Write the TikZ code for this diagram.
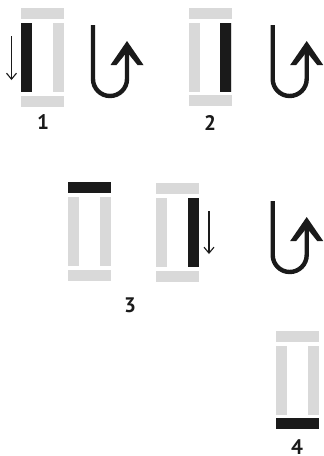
\documentclass[tikz,border=0pt]{standalone}
\usepackage{fontspec}
\setmainfont{PT Sans}
\usepackage{xcolor}
\usetikzlibrary{arrows.meta,positioning}
\definecolor{barlight}{HTML}{D9D9D9}
\definecolor{bardark}{HTML}{1A1A1A}
\tikzset{
  barpale/.style={fill=barlight},
  barblack/.style={fill=bardark},
  steplabel/.style={font=\bfseries\fontsize{21}{21}\selectfont,text=bardark,inner sep=0pt},
  thinarrow/.style={-{Straight Barb[length=6pt,width=10pt]},bardark,line width=1.1pt},
  uturn/.style={bardark,line width=4.4pt},
  uhead/.style={fill=bardark}
}
\begin{document}
\begin{tikzpicture}[x=1pt,y=-1pt]
  \useasboundingbox (0,0) rectangle (324,456);
  % pale frames: left edge, top edge
  \foreach \x/\y/\g in {21/8/96,189/8/95,68/182/270,156/183/271,276/331/418} {
    \fill[barpale] (\x,\y) rectangle ++(43,11);
    \fill[barpale] (\x,\y+15) rectangle ++(11,69);
    \fill[barpale] (\x+32,\y+15) rectangle ++(11,69);
    \fill[barpale] (\x,\g) rectangle ++(43,11);
  }
  % black parts
  \fill[barblack] (21,23) rectangle (32,92);
  \fill[barblack] (220,23) rectangle (231,92);
  \fill[barblack] (68,182) rectangle (111,193);
  \fill[barblack] (188,198) rectangle (199,267);
  \fill[barblack] (276,418) rectangle (319,429);
  % small arrows
  \coordinate (down1a) at (11.5,36);
  \coordinate (down1b) at (11.5,80);
  \coordinate (down3a) at (209,211);
  \coordinate (down3b) at (209,254);
  \draw[thinarrow] (down1a) -- (down1b);
  \draw[thinarrow] (down3a) -- (down3b);
  % u-turns
  \foreach \x/\y in {93/25,272.7/25,272.7/201} {
    \draw[uturn] (\x,\y) -- (\x,\y+54) arc[start angle=180,end angle=0,x radius=17,y radius=17] -- (\x+34,\y+22);
    \fill[uhead] (\x+34,\y+16) -- (\x+50.5,\y+40) -- (\x+44.5,\y+40) -- (\x+34,\y+27) -- (\x+23.5,\y+40) -- (\x+17.5,\y+40) -- cycle;
  }
  \node[steplabel] (one) at (43,122.5) {1};
  \node[steplabel] (two) at (210,122.5) {2};
  \node[steplabel] (three) at (130,305.5) {3};
  \node[steplabel] (four) at (297,447) {4};
\end{tikzpicture}
\end{document}
